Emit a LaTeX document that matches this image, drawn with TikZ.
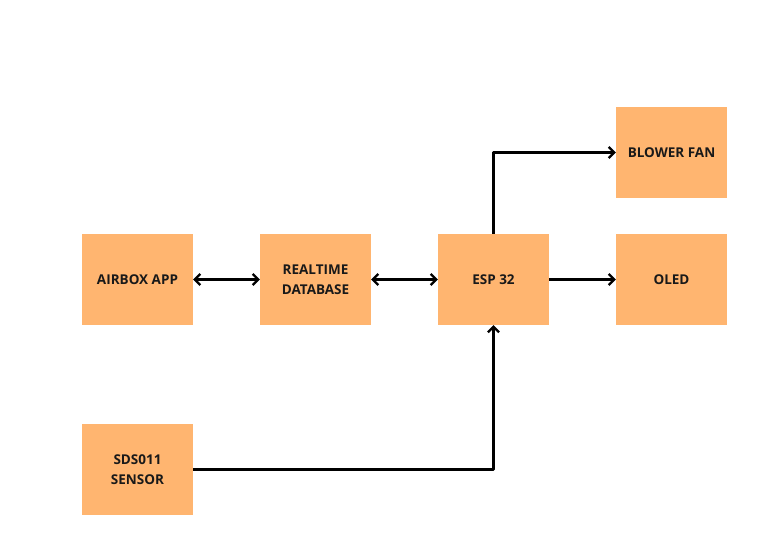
\documentclass[tikz,border=0pt]{standalone}
\usepackage{fontspec}
\setmainfont{Open Sans}
\usetikzlibrary{arrows.meta}
\definecolor{boxfill}{HTML}{FFB570}
\begin{document}
\begin{tikzpicture}[x=1pt,y=-1pt,
  blockbox/.style={fill=boxfill,draw=none,minimum width=111pt,minimum height=91pt,inner sep=0pt,align=center,font=\fontsize{13.5}{19.5}\selectfont\bfseries,text=black!90},
  conn/.style={line width=2.3pt,black,line join=round,-{Straight Barb[length=5.5pt,width=11pt,line width=2.3pt]}},
  conn2/.style={line width=2.3pt,black,{Straight Barb[length=5.5pt,width=11pt,line width=2.3pt]}-{Straight Barb[length=5.5pt,width=11pt,line width=2.3pt]}}]
\useasboundingbox[fill=white] (0,0) rectangle (784,541);
\node[blockbox] (app) at (137.5,279.5) {AIRBOX APP};
\node[blockbox] (db) at (315.5,279.5) {REALTIME\\DATABASE};
\node[blockbox] (esp) at (493.5,279.5) {ESP 32};
\node[blockbox] (oled) at (671.5,279.5) {OLED};
\node[blockbox] (fan) at (671.5,152.5) {BLOWER FAN};
\node[blockbox] (sensor) at (137.5,469.5) {SDS011\\SENSOR};
\draw[conn2] (app) -- (db);
\draw[conn2] (db) -- (esp);
\draw[conn] (esp) -- (oled);
\draw[conn] (esp.north) |- (fan.west);
\draw[conn] (sensor.east) -| (esp.south);
\end{tikzpicture}
\end{document}
